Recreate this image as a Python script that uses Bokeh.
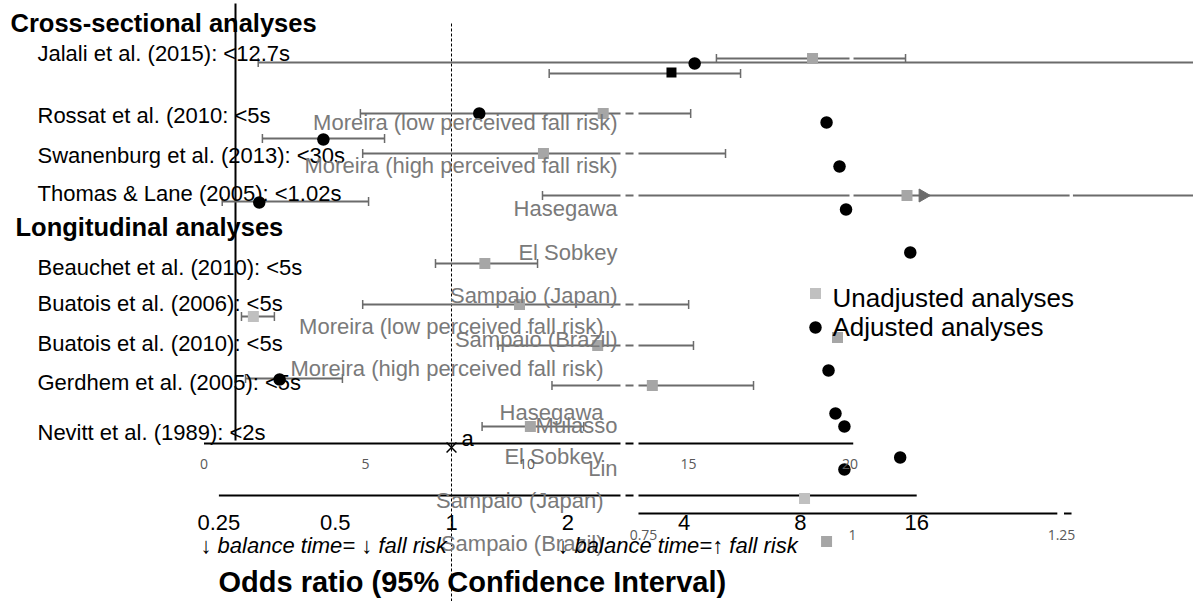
import math
from bokeh.plotting import figure
from bokeh.models import (Range1d, LinearScale, LinearAxis, LogAxis, FixedTicker,
                          CustomJSTickFormatter)
from bokeh.core.properties import value
from bokeh.embed import file_html
from bokeh.resources import INLINE

# ---------------- data ----------------
section_headers = ["Cross-sectional analyses", "Longitudinal analyses"]
study_labels = ["Jalali et al. (2015): <12.7s", "Rossat et al. (2010: <5s",
                "Swanenburg et al. (2013): <30s", "Thomas & Lane (2005): <1.02s",
                "Beauchet et al. (2010): <5s", "Buatois et al. (2006): <5s",
                "Buatois et al. (2010): <5s", "Gerdhem et al. (2005): <5s",
                "Nevitt et al. (1989): <2s"]
overlay_labels = ["Moreira (low perceived fall risk)", "Moreira (high perceived fall risk)",
                  "Hasegawa", "El Sobkey", "Sampaio (Japan)", "Sampaio (Brazil)",
                  "Mulasso", "Lin"]
overlay_labels_2 = ["Moreira (low perceived fall risk)", "Moreira (high perceived fall risk)",
                    "Hasegawa", "El Sobkey", "Sampaio (Japan)", "Sampaio (Brazil)"]

# unadjusted odds ratios (grey squares) with 95% CI
unadj_or = [8.60, 2.47, 1.73, 15.1, 1.22, 1.50, 0.307, 2.39, 3.31, 1.60]
unadj_lo = [4.85, 0.581, 0.589, 1.72, 0.909, 0.589, 0.286, 1.32, 1.82, 1.20]
unadj_hi = [14.97, 4.16, 5.12, 120.0, 1.67, 4.11, 0.348, 4.23, 6.05, 2.20]
# unadjusted odds ratios shown without interval
unadj_point_or = [9.98, 8.20, 9.35]

# adjusted odds ratios (black circles) with 95% CI
adj_or = [4.26, 0.466, 0.318, 0.359]
adj_lo = [0.316, 0.324, 0.255, 0.293]
adj_hi = [120.0, 0.671, 0.610, 0.522]
# adjusted odds ratios shown without interval
adj_point_or = [1.18, 9.35, 10.1, 10.5, 15.4, 9.46, 9.86, 10.4, 14.5, 10.4]
# summary estimate (black square)
pooled_or = [3.71]
pooled_lo = [1.79]
pooled_hi = [5.60]

log_ticks = [0.25, 0.5, 1, 2, 4, 8, 16]
lin_ticks = [0, 5, 10, 15, 20]
third_ticks = [0.75, 1, 1.25]
legend_labels = ["Unadjusted analyses", "Adjusted analyses"]
title_text = "Odds ratio (95% Confidence Interval)"
direction_labels = ["\u2193 balance time= \u2193 fall risk", "\u2193 balance time=\u2191 fall risk"]

# ---------------- layout (positions / styles) ----------------
W, H = 1193, 601
ONE_AT, PX_PER_DOUBLING = 451.0, 116.3
LIN_ZERO, LIN_PX = 203.5, 32.3
THIRD_ONE, THIRD_PX = 852.0, 836.0

header_y = [22, 226]
header_x = [10, 15]
study_y = [53, 115, 155, 193, 267, 303, 343, 382, 432]
overlay_y = [122, 165, 208, 252, 295, 339, 425, 468]
overlay_y_2 = [326, 368, 412, 456, 500, 543]
unadj_y = [58, 113, 153, 195, 263, 304, 316, 345, 385, 426]
unadj_light = [False, False, False, False, False, False, True, False, False, False]
unadj_point_y = [337, 498, 541]
unadj_point_light = [False, True, False]
adj_y = [63, 139, 202, 379]
adj_point_y = [113, 122, 166, 209, 252, 370, 413, 426, 457, 469]
pooled_y = [72]

STD_BREAK = [(2.738, 2.821), (2.959, 3.048)]
unadj_gaps = [[(10.72, 10.98)], STD_BREAK, STD_BREAK,
              STD_BREAK + [(10.72, 10.98), (39.8, 40.6)],
              [], STD_BREAK, [], STD_BREAK, STD_BREAK, []]

LINE_GREY = "#6b6b6b"
SQ_GREY = "#a6a6a6"
SQ_LIGHT = "#c0c0c0"
TXT_GREY = "#7a7a7a"
FONT = "Liberation Sans"
ARROW_FONT = "Liberation Sans, DejaVu Sans"


def px_to_or(px):
    return 2 ** ((px - ONE_AT) / PX_PER_DOUBLING)


def split(lo, hi, gaps):
    segs = []
    start = lo
    for g0, g1 in gaps:
        if start < g0 < hi:
            segs.append((start, g0))
            start = max(start, g1)
    segs.append((start, hi))
    return segs


p = figure(width=W, height=H, x_axis_type="log",
           x_range=Range1d(px_to_or(0), px_to_or(W)), y_range=Range1d(H, 0),
           x_axis_location=None, y_axis_location=None, toolbar_location=None,
           output_backend="svg", min_border=0, outline_line_color=None,
           background_fill_color="white", border_fill_color="white")
p.xgrid.grid_line_color = None
p.ygrid.grid_line_color = None
p.extra_x_ranges = {
    "lin": Range1d(-LIN_ZERO / LIN_PX, (W - LIN_ZERO) / LIN_PX),
    "third": Range1d(1 - THIRD_ONE / THIRD_PX, 1 + (W - THIRD_ONE) / THIRD_PX),
    "px": Range1d(0, W),
}
p.extra_x_scales = {"lin": LinearScale(), "third": LinearScale(), "px": LinearScale()}

# ---- structural lines ----
p.segment(x0=[235], y0=[3], x1=[235], y1=[440], x_range_name="px",
          line_color="black", line_width=2)
p.segment(x0=[1], y0=[23], x1=[1], y1=[H], line_color="black", line_width=1,
          line_dash="3 2")

# axis lines (with breaks)
lin_break = [((620 - LIN_ZERO) / LIN_PX, (625 - LIN_ZERO) / LIN_PX),
             ((633 - LIN_ZERO) / LIN_PX, (638 - LIN_ZERO) / LIN_PX)]
segs = split(lin_ticks[0], 20.1, lin_break)
p.segment(x0=[a for a, b in segs], y0=[443] * len(segs), x1=[b for a, b in segs],
          y1=[443] * len(segs), x_range_name="lin", line_color="black", line_width=2)
segs = split(log_ticks[0], log_ticks[-1], STD_BREAK)
p.segment(x0=[a for a, b in segs], y0=[495] * len(segs), x1=[b for a, b in segs],
          y1=[495] * len(segs), line_color="black", line_width=2)
segs = split(0.744, 1.262, [(1.245, 1.253)])
p.segment(x0=[a for a, b in segs], y0=[513] * len(segs), x1=[b for a, b in segs],
          y1=[513] * len(segs), x_range_name="third", line_color="black", line_width=2)

# ---- confidence intervals ----
x0, x1, ys = [], [], []
cx, cy = [], []
for o, lo, hi, y, gaps in zip(unadj_or, unadj_lo, unadj_hi, unadj_y, unadj_gaps):
    for a, b in split(lo, hi, gaps):
        x0.append(a); x1.append(b); ys.append(y)
    cx += [lo, hi]; cy += [y, y]
for o, lo, hi, y in zip(adj_or, adj_lo, adj_hi, adj_y):
    x0.append(lo); x1.append(hi); ys.append(y - 1)
    cx += [lo, hi]; cy += [y - 1, y - 1]
for o, lo, hi, y in zip(pooled_or, pooled_lo, pooled_hi, pooled_y):
    x0.append(lo); x1.append(hi); ys.append(y + 1)
    cx += [lo, hi]; cy += [y + 1, y + 1]
p.segment(x0=x0, y0=ys, x1=x1, y1=ys, line_color=LINE_GREY, line_width=2)
p.segment(x0=cx, y0=[y - 4.5 for y in cy], x1=cx, y1=[y + 4.5 for y in cy],
          line_color=LINE_GREY, line_width=1.5)

# arrow for interval beyond axis
p.scatter(x=[16.6], y=[unadj_y[3]], marker="triangle", size=13, angle=-math.pi / 2,
          fill_color=LINE_GREY, line_color=LINE_GREY)

# ---- points ----
p.scatter(x=unadj_or, y=unadj_y, marker="square", size=11, line_color=None,
          fill_color=[SQ_LIGHT if l else SQ_GREY for l in unadj_light])
p.scatter(x=unadj_point_or, y=unadj_point_y, marker="square", size=11, line_color=None,
          fill_color=[SQ_LIGHT if l else SQ_GREY for l in unadj_point_light])
p.scatter(x=adj_or, y=adj_y, marker="circle", size=12.5, fill_color="black", line_color=None)
p.scatter(x=adj_point_or, y=adj_point_y, marker="circle", size=12.5, fill_color="black",
          line_color=None)
p.scatter(x=pooled_or, y=pooled_y, marker="square", size=10, fill_color="black",
          line_color=None)
p.scatter(x=[1], y=[447], marker="x", size=14, line_color="black", line_width=1.5)
p.text(x=[461], y=[438], text=["a"], x_range_name="px", text_font=value(FONT),
       text_font_size="22px", text_baseline="middle", text_color="black")

# ---- texts ----
p.text(x=header_x, y=header_y, text=section_headers, x_range_name="px",
       text_font=value(FONT), text_font_size="25.5px", text_font_style="bold",
       text_baseline="middle", text_align="left", text_color="black")
p.text(x=[37] * len(study_labels), y=study_y, text=study_labels, x_range_name="px",
       text_font=value(FONT), text_font_size="22px", text_baseline="middle",
       text_align="left", text_color="black")
p.text(x=[617] * len(overlay_labels), y=overlay_y, text=overlay_labels, x_range_name="px",
       text_font=value(FONT), text_font_size="22px", text_baseline="middle",
       text_align="right", text_color=TXT_GREY)
p.text(x=[603] * len(overlay_labels_2), y=overlay_y_2, text=overlay_labels_2,
       x_range_name="px", text_font=value(FONT), text_font_size="22px",
       text_baseline="middle", text_align="right", text_color=TXT_GREY)
p.text(x=[200, 557], y=[545, 545], text=direction_labels, x_range_name="px",
       text_font=value(ARROW_FONT), text_font_size="22px", text_font_style="italic",
       text_baseline="middle", text_align="left", text_color="black")
p.text(x=[218], y=[581], text=[title_text], x_range_name="px", text_font=value(FONT),
       text_font_size="29px", text_font_style="bold", text_baseline="middle",
       text_align="left", text_color="black")

# legend
p.scatter(x=[815], y=[293], x_range_name="px", marker="square", size=11,
          fill_color=SQ_LIGHT, line_color=None)
p.scatter(x=[815], y=[327], x_range_name="px", marker="circle", size=12.5,
          fill_color="black", line_color=None)
p.text(x=[832, 832], y=[297, 326], text=legend_labels, x_range_name="px",
       text_font=value(FONT), text_font_size="26px", text_baseline="middle",
       text_align="left", text_color="black")

# ---- tick-label axes ----
fmt = "return tick.toString()"
log_axis = LogAxis(fixed_location=495, ticker=FixedTicker(ticks=log_ticks),
                   formatter=CustomJSTickFormatter(code=fmt))
lin_axis = LinearAxis(x_range_name="lin", fixed_location=443,
                      ticker=FixedTicker(ticks=lin_ticks),
                      formatter=CustomJSTickFormatter(code=fmt))
third_axis = LinearAxis(x_range_name="third", fixed_location=513,
                        ticker=FixedTicker(ticks=third_ticks),
                        formatter=CustomJSTickFormatter(code=fmt))
for ax, size, color, font, standoff in [
        (log_axis, "22px", "black", FONT, 19),
        (lin_axis, "14px", "#595959", "Open Sans", 15),
        (third_axis, "14px", "#595959", "Open Sans", 16)]:
    ax.axis_line_color = None
    ax.major_tick_line_color = None
    ax.minor_tick_line_color = None
    ax.major_tick_out = 0
    ax.minor_tick_out = 0
    ax.major_tick_in = 0
    ax.major_label_standoff = standoff
    ax.major_label_text_font = font
    ax.major_label_text_font_size = size
    ax.major_label_text_color = color
    p.add_layout(ax, "below")

open("out.html", "w").write(file_html(p, INLINE))
